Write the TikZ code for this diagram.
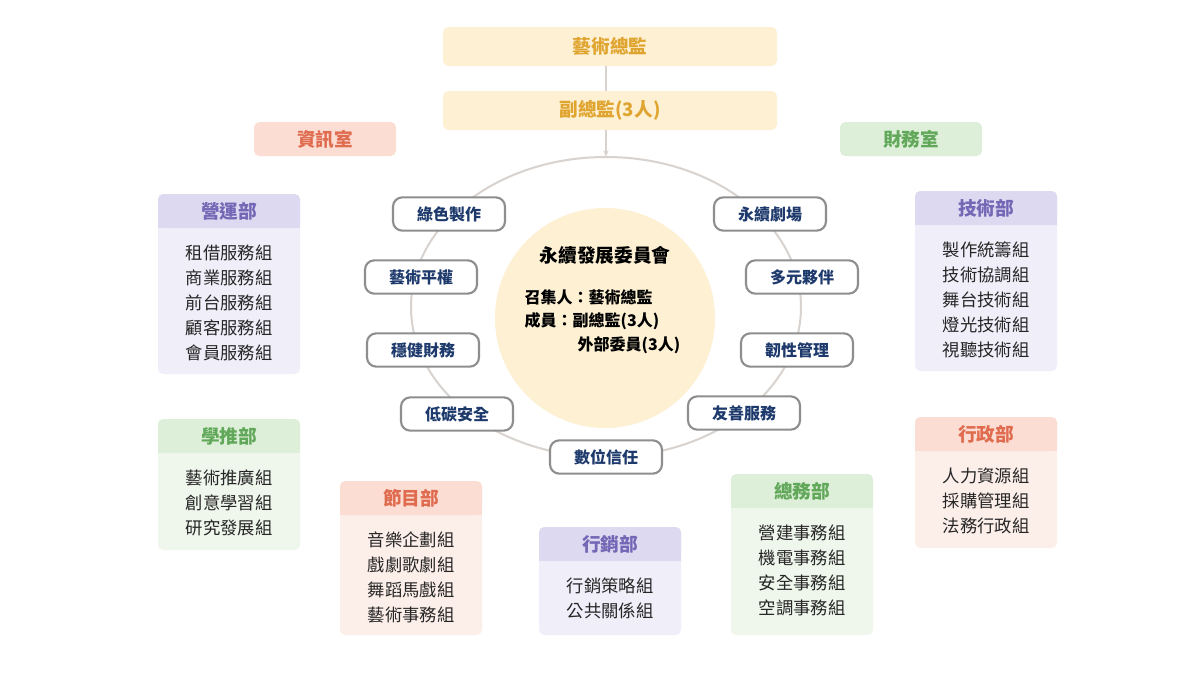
\documentclass[tikz,border=0pt]{standalone}
\usepackage{fontspec}
\setmainfont{Noto Sans CJK TC}
\usetikzlibrary{arrows.meta}
\definecolor{topf}{HTML}{FDF0D3}\definecolor{topt}{HTML}{E0A530}
\definecolor{pf}{HTML}{DDD9F0}\definecolor{pb}{HTML}{EFEEF9}\definecolor{pt}{HTML}{7467B5}
\definecolor{gf}{HTML}{DDEFD8}\definecolor{gb}{HTML}{EFF6EC}\definecolor{gt}{HTML}{62A85A}
\definecolor{rf}{HTML}{FBDDD3}\definecolor{rb}{HTML}{FCEFEA}\definecolor{rt}{HTML}{E06C50}
\definecolor{navy}{HTML}{1E3A6C}\definecolor{ring}{HTML}{D8D3CF}\definecolor{pillb}{HTML}{8E8E8E}
\begin{document}
\begin{tikzpicture}[x=0.75pt,y=-0.75pt,
 box/.style={rounded corners=4pt,inner sep=0pt,font=\fontsize{14}{16}\selectfont\bfseries},
 pill/.style={draw=pillb,line width=1.6pt,fill=white,rounded corners=7pt,minimum width=84pt,minimum height=25pt,inner sep=0pt,text=navy,font=\fontsize{12}{14}\selectfont\bfseries},
 item/.style={font=\fontsize{13}{14}\selectfont,text=black!85}]
\useasboundingbox (0,0) rectangle (1200,675);
\fill[white] (0,0) rectangle (1200,675);
% top
\fill[topf,rounded corners=4pt] (443,27) rectangle (777,66);
\node[box,text=topt] (ad) at (610,46.5) {藝術總監};
\fill[topf,rounded corners=4pt] (443,91) rectangle (777,130);
\node[box,text=topt] (vd) at (610,110.5) {副總監(3人)};
\draw[ring,line width=1pt] (606,66) -- (606,91);
\coordinate (ctop) at (606,157);
\draw[ring,line width=1pt,-{Stealth[length=5pt]}] (606,130) -- (ctop);
% ring
\draw[ring,line width=1.5pt] (606,307) ellipse [x radius=195, y radius=150];
\fill[topf] (605,318) circle (110);
\node[font=\fontsize{14}{16}\selectfont\bfseries] (cm) at (605,255) {永續發展委員會};
\node[anchor=west,font=\fontsize{12}{14}\selectfont\bfseries] (c1) at (520,297) {召集人：藝術總監};
\node[anchor=west,font=\fontsize{12}{14}\selectfont\bfseries] (c2) at (520,321) {成員：副總監(3人)};
\node[anchor=west,font=\fontsize{12}{14}\selectfont\bfseries] (c3) at (573,345) {外部委員(3人)};
\node[pill] (p1) at (449,214) {綠色製作};
\node[pill] (p2) at (421,277) {藝術平權};
\node[pill] (p3) at (423,350) {穩健財務};
\node[pill] (p4) at (457,414) {低碳安全};
\node[pill] (p5) at (606,457) {數位信任};
\node[pill] (p6) at (744,413) {友善服務};
\node[pill] (p7) at (797,350) {韌性管理};
\node[pill] (p8) at (802,277) {多元夥伴};
\node[pill] (p9) at (770,214) {永續劇場};
% offices
\fill[rf,rounded corners=4pt] (254,122) rectangle (396,156);
\node[box,text=rt] (it) at (325,139) {資訊室};
\fill[gf,rounded corners=4pt] (840,122) rectangle (982,156);
\node[box,text=gt] (fin) at (911,139) {財務室};
% departments
\newcommand{\dept}[8]{%
 \fill[#5,rounded corners=4pt] (#2,#3) rectangle (#2+142,#7);
 \fill[#4,rounded corners=4pt] (#2,#3) rectangle (#2+142,#3+34);
 \fill[#4] (#2,#3+26) rectangle (#2+142,#3+34);
 \node[box,text=#6] (#1) at (#2+71,#3+17) {#1};
 \foreach \t [count=\i] in {#8} \node[item] at (#2+71,#3+34+25*\i) {\t};
}
\dept{營運部}{158}{194}{pf}{pb}{pt}{374}{租借服務組,商業服務組,前台服務組,顧客服務組,會員服務組}
\dept{學推部}{158}{419}{gf}{gb}{gt}{550}{藝術推廣組,創意學習組,研究發展組}
\dept{節目部}{340}{481}{rf}{rb}{rt}{635}{音樂企劃組,戲劇歌劇組,舞蹈馬戲組,藝術事務組}
\dept{行銷部}{539}{527}{pf}{pb}{pt}{635}{行銷策略組,公共關係組}
\dept{總務部}{731}{474}{gf}{gb}{gt}{635}{營建事務組,機電事務組,安全事務組,空調事務組}
\dept{技術部}{915}{191}{pf}{pb}{pt}{371}{製作統籌組,技術協調組,舞台技術組,燈光技術組,視聽技術組}
\dept{行政部}{915}{417}{rf}{rb}{rt}{548}{人力資源組,採購管理組,法務行政組}
\end{tikzpicture}
\end{document}
